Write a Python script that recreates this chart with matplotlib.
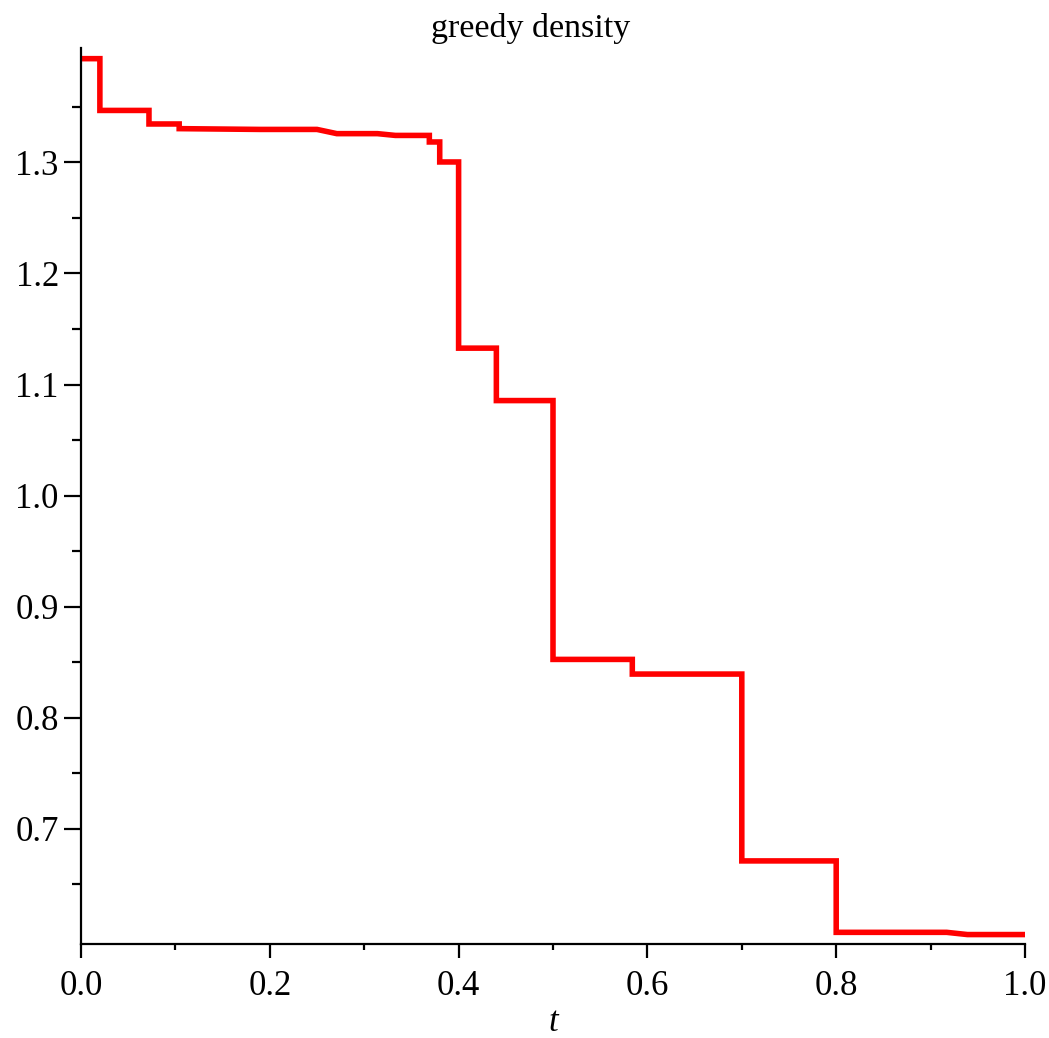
import matplotlib.pyplot as plt
from matplotlib.ticker import MultipleLocator, FixedLocator

# polyline vertices of the greedy density curve
t = [0.0, 0.020, 0.020, 0.072, 0.072, 0.104, 0.104, 0.190, 0.250, 0.271,
     0.314, 0.333, 0.369, 0.369, 0.380, 0.380, 0.400, 0.400, 0.440, 0.440,
     0.500, 0.500, 0.584, 0.584, 0.700, 0.700, 0.800, 0.800, 0.917, 0.939, 1.0]
density = [1.3934, 1.3934, 1.3468, 1.3468, 1.3346, 1.3346, 1.3304, 1.3297, 1.3297, 1.3259,
           1.3259, 1.3243, 1.3243, 1.3184, 1.3184, 1.3004, 1.3004, 1.1328, 1.1328, 1.0856,
           1.0856, 0.8526, 0.8526, 0.8394, 0.8394, 0.6712, 0.6712, 0.6069, 0.6069, 0.6049, 0.6049]

y_major = [0.7, 0.8, 0.9, 1.0, 1.1, 1.2, 1.3]
y_minor = [0.65, 0.75, 0.85, 0.95, 1.05, 1.15, 1.25, 1.35]

plt.rcParams['font.family'] = ['Liberation Serif', 'DejaVu Serif']

fig = plt.figure(figsize=(10.49, 10.38), dpi=100)
ax = fig.add_axes([81 / 1049, 1 - 944 / 1038, 944 / 1049, (944 - 48) / 1038])

ax.plot(t, density, color='#ff0000', linewidth=4.0, solid_joinstyle='miter')

ax.set_xlim(0, 1.0)
ax.set_ylim(0.5964, 1.403)
ax.spines['top'].set_visible(False)
ax.spines['right'].set_visible(False)
ax.spines['left'].set_linewidth(1.6)
ax.spines['bottom'].set_linewidth(1.6)

ax.xaxis.set_major_locator(MultipleLocator(0.2))
ax.xaxis.set_minor_locator(MultipleLocator(0.1))
ax.yaxis.set_major_locator(FixedLocator(y_major))
ax.yaxis.set_minor_locator(FixedLocator(y_minor))
ax.set_xticklabels([f'{v:.1f}' for v in ax.get_xticks()])
ax.set_yticklabels([f'{v:.1f}' for v in y_major])

ax.tick_params(axis='x', which='major', direction='out', length=10, width=1.6, labelsize=25, pad=9)
ax.tick_params(axis='x', which='minor', direction='out', length=4.3, width=1.6)
ax.tick_params(axis='y', which='major', direction='out', length=12, width=1.6, labelsize=25, pad=4)
ax.tick_params(axis='y', which='minor', direction='out', length=6.5, width=1.6)

ax.set_xlabel('t', fontsize=25, style='italic', labelpad=2)
fig.text(531 / 1049, 1 - 28 / 1038, 'greedy density', fontsize=24.5, ha='center', va='center')

fig.savefig('out.png', dpi=100)
